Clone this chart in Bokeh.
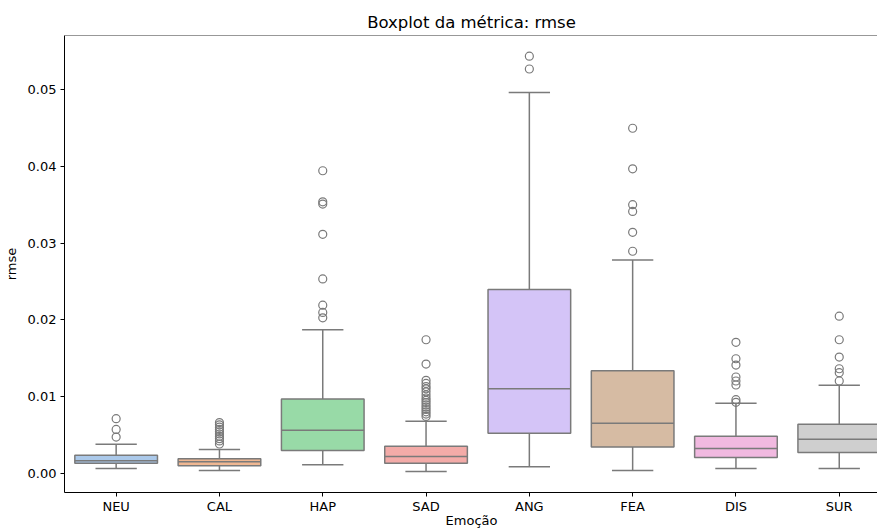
from bokeh.plotting import figure
from bokeh.models import Range1d, FixedTicker, Span, ColumnDataSource
from bokeh.embed import file_html
from bokeh.resources import INLINE

categories = ["NEU", "CAL", "HAP", "SAD", "ANG", "FEA", "DIS", "SUR"]
colors = ["#abc9ea", "#efb792", "#98daa7", "#f3aba8", "#d4c4f7", "#d6bba3", "#f1b9e0", "#cfcfcf"]

whisker_low = [0.0006, 0.00034, 0.00108, 0.00021, 0.00082, 0.00034, 0.0006, 0.0006]
q1 = [0.0013, 0.00095, 0.00294, 0.0013, 0.00521, 0.00342, 0.00203, 0.00268]
median = [0.0016, 0.00147, 0.0056, 0.00216, 0.01102, 0.00651, 0.0032, 0.00443]
q3 = [0.00234, 0.00186, 0.00967, 0.00352, 0.02396, 0.01336, 0.00482, 0.00638]
whisker_high = [0.00378, 0.00308, 0.0187, 0.00677, 0.04965, 0.02781, 0.00911, 0.01146]

outliers = {
    "NEU": [0.0071, 0.0057, 0.0047],
    "CAL": [0.0066, 0.0063, 0.0060, 0.0057, 0.0054, 0.0051, 0.0048, 0.0045, 0.0042, 0.0038],
    "HAP": [0.03945, 0.0354, 0.0351, 0.03116, 0.02534, 0.02191, 0.02096, 0.02026],
    "SAD": [0.0174, 0.01423, 0.0121, 0.0117, 0.0113, 0.0110, 0.0106, 0.0102, 0.0098,
            0.0095, 0.0092, 0.0089, 0.0086, 0.0083, 0.0080, 0.0077, 0.0074],
    "ANG": [0.0544, 0.05273],
    "FEA": [0.045, 0.0397, 0.03503, 0.03415, 0.03142, 0.02895],
    "DIS": [0.01706, 0.01492, 0.0141, 0.01254, 0.01202, 0.0115, 0.00958, 0.00924],
    "SUR": [0.02048, 0.0174, 0.01514, 0.01362, 0.0131, 0.01202],
}

y_ticks = [0.0, 0.01, 0.02, 0.03, 0.04, 0.05]

FONT = "DejaVu Sans"
LINE = "#7a7a7a"

xs = list(range(len(categories)))
src = ColumnDataSource(dict(
    x=xs, left=[i - 0.4 for i in xs], right=[i + 0.4 for i in xs],
    cl=[i - 0.2 for i in xs], cr=[i + 0.2 for i in xs],
    lo=whisker_low, q1=q1, med=median, q3=q3, hi=whisker_high, color=colors,
))

p = figure(frame_width=814, frame_height=457, output_backend="svg", toolbar_location=None,
           x_range=Range1d(-0.5, 7.38), y_range=Range1d(-0.00253, 0.0571),
           min_border_left=55, min_border_right=0, min_border_top=35, min_border_bottom=0)

p.title.text = "Boxplot da métrica: rmse"
p.title.align = "center"
p.title.text_font = FONT
p.title.text_font_size = "16.5px"
p.title.text_font_style = "normal"
p.title.text_color = "#000000"
p.title.standoff = 8

p.xgrid.visible = False
p.ygrid.visible = False
p.outline_line_color = None
p.background_fill_color = "white"
p.border_fill_color = "white"

# whiskers
p.segment(x0="x", x1="x", y0="lo", y1="q1", source=src, line_color=LINE, line_width=1.5)
p.segment(x0="x", x1="x", y0="q3", y1="hi", source=src, line_color=LINE, line_width=1.5)
p.segment(x0="cl", x1="cr", y0="lo", y1="lo", source=src, line_color=LINE, line_width=1.5)
p.segment(x0="cl", x1="cr", y0="hi", y1="hi", source=src, line_color=LINE, line_width=1.5)
# boxes
p.quad(left="left", right="right", bottom="q1", top="q3", source=src,
       fill_color="color", line_color=LINE, line_width=1.5)
p.segment(x0="left", x1="right", y0="med", y1="med", source=src, line_color=LINE, line_width=1.5)

# outliers
ox, oy = [], []
for i, c in enumerate(categories):
    for v in outliers[c]:
        ox.append(i)
        oy.append(v)
p.scatter(ox, oy, size=8, marker="circle", fill_color=None, line_color=LINE, line_width=1.2)

# top spine
p.add_layout(Span(location=0.0571, dimension="width", line_color="#333333", line_width=1))

# axes
xa = p.xaxis[0]
xa.ticker = FixedTicker(ticks=xs)
xa.major_label_overrides = {i: c for i, c in enumerate(categories)}
xa.axis_label = "Emoção"
ya = p.yaxis[0]
ya.ticker = FixedTicker(ticks=y_ticks)
ya.major_label_overrides = {t: f"{t:.2f}" for t in y_ticks}
ya.axis_label = "rmse"

for ax in (xa, ya):
    ax.minor_tick_line_color = None
    ax.major_tick_in = 0
    ax.major_tick_out = 4
    ax.axis_line_color = "black"
    ax.major_tick_line_color = "black"
    ax.major_label_text_font = FONT
    ax.major_label_text_font_size = "13px"
    ax.major_label_text_color = "black"
    ax.axis_label_text_font = FONT
    ax.axis_label_text_font_size = "13px"
    ax.axis_label_text_font_style = "normal"
    ax.axis_label_text_color = "black"
    ax.major_label_standoff = 4
    ax.axis_label_standoff = 4
xa.major_label_standoff = 2
xa.axis_label_standoff = -4
ya.axis_label_standoff = 6

open("out.html", "w").write(file_html(p, INLINE))
